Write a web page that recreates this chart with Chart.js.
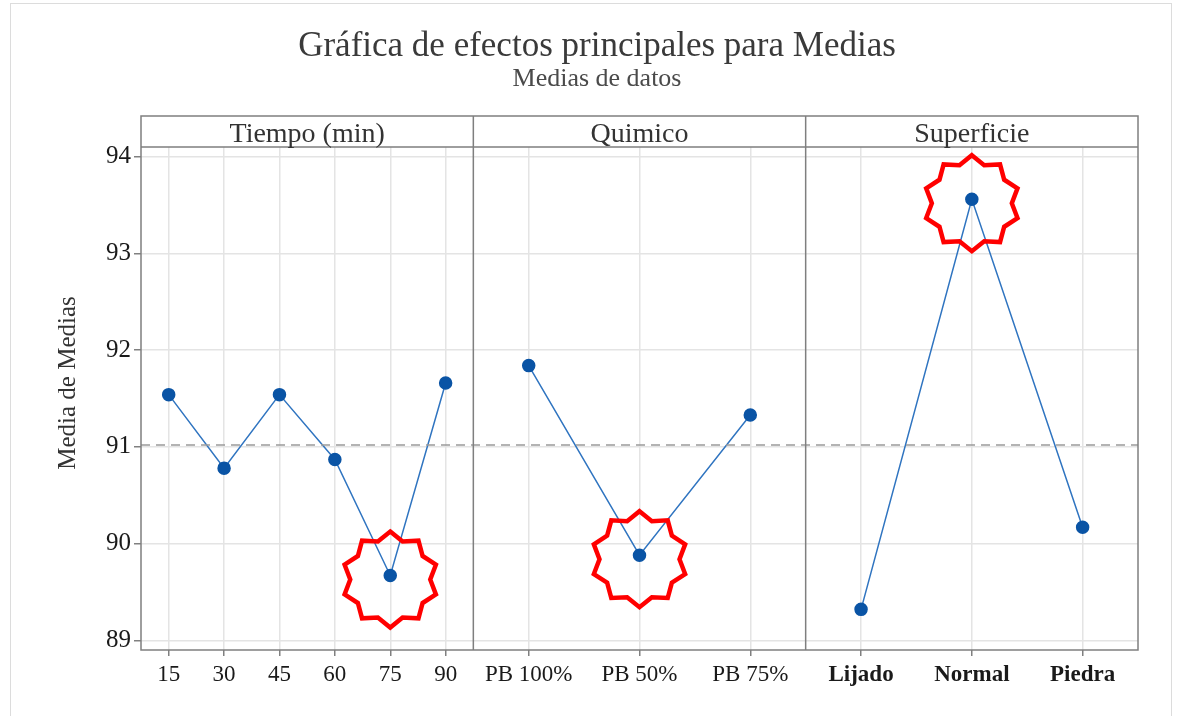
<!DOCTYPE html>
<html>
<head>
<meta charset="utf-8">
<script src="https://cdn.jsdelivr.net/npm/chart.js@4.4.1/dist/chart.umd.min.js"></script>
<style>
  html, body { margin: 0; padding: 0; background: #fff; overflow: hidden; }
  #wrap { position: relative; width: 1181px; height: 716px; }
  #frame { position: absolute; left: 10px; top: 3px; width: 1160px; height: 740px; border: 1px solid #dcdcdc; }
  canvas { position: absolute; left: 0; top: 0; }
</style>
</head>
<body>
<div id="wrap">
  <div id="frame"></div>
  <canvas id="efectosChart" width="1181" height="716"></canvas>
</div>
<script>
// Panels (factors)
const factores = ['Tiempo (min)', 'Quimico', 'Superficie'];

// Levels of each factor
const tiempoNiveles = ['15', '30', '45', '60', '75', '90'];
const quimicoNiveles = ['PB 100%', 'PB 50%', 'PB 75%'];
const superficieNiveles = ['Lijado', 'Normal', 'Piedra'];

// Means
const tiempoMedias = [91.54, 90.78, 91.54, 90.87, 89.67, 91.66];
const quimicoMedias = [91.84, 89.88, 91.33];
const superficieMedias = [89.32, 93.56, 90.17];

// Grand mean (dashed reference line)
const mediaGeneral = 91.02;

// Y axis ticks
const yTicks = [89, 90, 91, 92, 93, 94];
const yTitulo = 'Media de Medias';

// Highlighted points: [panel, level]
const resaltados = [[0, 4], [1, 1], [2, 1]];

const FONT = "'Liberation Serif', 'Times New Roman', serif";
const LINE_COLOR = '#2f74c0';
const POINT_COLOR = '#0a54a5';

// each panel is one unit wide on the x scale; levels sit in the middle of equal slots
function toPoints(panel, values) {
    return values.map((v, i) => ({ x: panel + (i + 0.5) / values.length, y: v }));
}

const niveles = [tiempoNiveles, quimicoNiveles, superficieNiveles];
const medias = [tiempoMedias, quimicoMedias, superficieMedias];
const tickPos = [];
const tickLabels = [];
niveles.forEach((lv, p) => lv.forEach((l, i) => {
    tickPos.push(p + (i + 0.5) / lv.length);
    tickLabels.push(l);
}));

const datasets = medias.map((vals, p) => ({
    label: factores[p],
    data: toPoints(p, vals),
    borderColor: LINE_COLOR,
    borderWidth: 1.5,
    backgroundColor: POINT_COLOR,
    pointBackgroundColor: POINT_COLOR,
    pointBorderColor: POINT_COLOR,
    pointRadius: 6,
    pointHoverRadius: 6,
    tension: 0
}));

// grand mean line across all panels
datasets.unshift({
    label: 'Media general',
    data: [{ x: 0, y: mediaGeneral }, { x: factores.length, y: mediaGeneral }],
    borderColor: '#9a9a9a',
    borderWidth: 1.5,
    borderDash: [9, 6],
    pointRadius: 0,
    pointHoverRadius: 0
});

// Panel frame, header strip, panel titles and y axis title
const panelPlugin = {
    id: 'panelFrame',
    afterDraw(chart) {
        const { ctx, chartArea } = chart;
        const xs = chart.scales.x;
        const headerH = 31;
        const top = chartArea.top - headerH;
        ctx.save();
        ctx.strokeStyle = '#7f7f7f';
        ctx.lineWidth = 1.5;
        ctx.strokeRect(chartArea.left, top, chartArea.right - chartArea.left, chartArea.bottom - top);
        ctx.beginPath();
        ctx.moveTo(chartArea.left, chartArea.top);
        ctx.lineTo(chartArea.right, chartArea.top);
        for (let p = 1; p < factores.length; p++) {
            const x = xs.getPixelForValue(p);
            ctx.moveTo(x, top);
            ctx.lineTo(x, chartArea.bottom);
        }
        ctx.stroke();
        ctx.fillStyle = '#333';
        ctx.font = '28px ' + FONT;
        ctx.textAlign = 'center';
        ctx.textBaseline = 'middle';
        factores.forEach((f, p) => {
            const cx = (xs.getPixelForValue(p) + xs.getPixelForValue(p + 1)) / 2;
            ctx.fillText(f, cx, top + headerH / 2 + 3);
        });
        // y title, centred on the whole panel including the header strip
        ctx.font = '25px ' + FONT;
        ctx.translate(chartArea.left - 73, (top + chartArea.bottom) / 2);
        ctx.rotate(-Math.PI / 2);
        ctx.fillText(yTitulo, 0, 0);
        ctx.restore();
    }
};

// Red star callouts around highlighted points
const starPlugin = {
    id: 'stars',
    afterDatasetsDraw(chart) {
        const { ctx } = chart;
        ctx.save();
        ctx.strokeStyle = '#ff0000';
        ctx.lineWidth = 4.5;
        ctx.lineJoin = 'miter';
        resaltados.forEach(([p, i]) => {
            const pt = chart.getDatasetMeta(p + 1).data[i];
            const n = 10, rOut = 48, rIn = 40;
            ctx.beginPath();
            for (let k = 0; k < n * 2; k++) {
                const r = k % 2 === 0 ? rOut : rIn;
                const a = -Math.PI / 2 + k * Math.PI / n;
                const x = pt.x + r * Math.cos(a);
                const y = pt.y + 4 + r * Math.sin(a);
                if (k === 0) ctx.moveTo(x, y); else ctx.lineTo(x, y);
            }
            ctx.closePath();
            ctx.stroke();
        });
        ctx.restore();
    }
};

new Chart(document.getElementById('efectosChart'), {
    type: 'line',
    data: { datasets },
    options: {
        responsive: false,
        animation: false,
        events: [],
        layout: { padding: { top: 8, right: 43, bottom: 0, left: 56 } },
        plugins: {
            legend: { display: false },
            tooltip: { enabled: false },
            title: {
                display: true,
                text: 'Gráfica de efectos principales para Medias',
                color: '#3a3a3a',
                font: { family: FONT, size: 35, weight: 'normal', lineHeight: 1.1 },
                padding: { top: 20, bottom: 0 }
            },
            subtitle: {
                display: true,
                text: 'Medias de datos',
                color: '#4a4a4a',
                font: { family: FONT, size: 26, weight: 'normal', lineHeight: 1.0 },
                padding: { top: 0, bottom: 54.5 }
            }
        },
        scales: {
            x: {
                type: 'linear',
                min: 0,
                max: factores.length,
                afterBuildTicks: (scale) => { scale.ticks = tickPos.map(v => ({ value: v })); },
                afterFit: (scale) => { scale.height = 66; },
                border: { display: false },
                grid: { color: '#e4e4e4', lineWidth: 1.5, tickLength: 6, tickColor: '#808080' },
                ticks: {
                    autoSkip: false,
                    maxRotation: 0,
                    padding: 5,
                    color: '#1a1a1a',
                    font: (c) => ({ family: FONT, size: 23, weight: c.index >= 9 ? 'bold' : 'normal' }),
                    callback: (v, i) => tickLabels[i]
                }
            },
            y: {
                min: 88.9,
                max: 94.1,
                afterBuildTicks: (scale) => { scale.ticks = yTicks.map(v => ({ value: v })); },
                afterFit: (scale) => { scale.width = 85; },
                border: { display: false },
                grid: { color: '#e4e4e4', lineWidth: 1.5, tickLength: 7, tickColor: '#808080' },
                ticks: {
                    padding: 3,
                    color: '#1a1a1a',
                    font: { family: FONT, size: 25 }
                }
            }
        }
    },
    plugins: [panelPlugin, starPlugin]
});
</script>
</body>
</html>
